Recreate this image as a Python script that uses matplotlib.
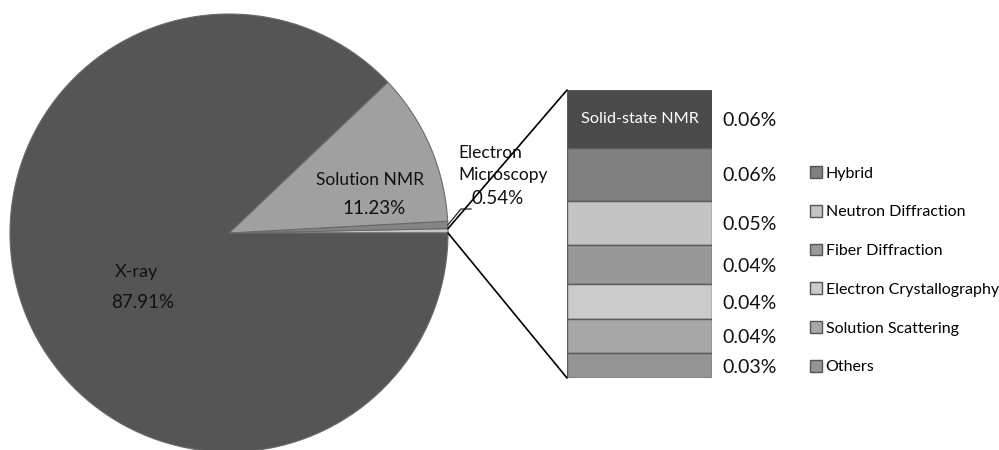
import numpy as np
import matplotlib
matplotlib.use("Agg")
import matplotlib.pyplot as plt
from matplotlib.patches import ConnectionPatch, Patch

plt.rcParams['font.family'] = ['Lato', 'DejaVu Sans']

# dados do grafico de pizza (%)
pie_labels = ["Other", "Electron Microscopy", "Solution NMR", "X-ray"]
pie_values_main = [0.54, 11.23, 87.91]

# detalhamento da fatia "Other" (%) - de cima para baixo
bar_labels = ["Solid-state NMR", "Hybrid", "Neutron Diffraction", "Fiber Diffraction",
              "Electron Crystallography", "Solution Scattering", "Others"]
bar_values = [0.064, 0.059, 0.049, 0.044, 0.038, 0.038, 0.028]
bar_text = ["0.06%", "0.06%", "0.05%", "0.04%", "0.04%", "0.04%", "0.03%"]
bar_colors = ["#4a4a4a", "#808080", "#c4c4c4", "#999999", "#cbcbcb", "#a8a8a8", "#949494"]

pie_values = [sum(bar_values)] + pie_values_main
pie_colors = ["#c6c6c6", "#858585", "#a0a0a0", "#555555"]

fig = plt.figure(figsize=(9.99, 4.5), dpi=100)
ax = fig.add_axes([0, 0, 1, 1])

cx, cy, r = 229, 217, 219
wedges, _ = ax.pie(pie_values, colors=pie_colors, startangle=0, counterclock=True,
                   center=(cx, cy), radius=r, frame=True,
                   wedgeprops=dict(edgecolor="#6a6a6a", linewidth=0.8))
ax.set_xlim(0, 999)
ax.set_ylim(0, 450)
ax.set_aspect("equal")
ax.axis("off")

# rotulos da pizza
ax.text(136, 450 - 272, "X-ray", ha="center", va="center", fontsize=13, color="#111111")
ax.text(143, 450 - 302, "87.91%", ha="center", va="center", fontsize=13.5, color="#111111")
ax.text(370, 450 - 180, "Solution NMR", ha="center", va="center", fontsize=12.5, color="#111111")
ax.text(374, 450 - 209, "11.23%", ha="center", va="center", fontsize=13.5, color="#111111")
ax.text(458, 450 - 164, "Electron\nMicroscopy", ha="left", va="center", fontsize=12.5,
        linespacing=1.45, color="#111111")
ax.text(471, 450 - 199, "0.54%", ha="left", va="center", fontsize=13.5, color="#111111")
ang = np.deg2rad(pie_values[0] + pie_values[1] / 2) * 3.6
ax.plot([cx + r * np.cos(ang), 461, 471], [cy + r * np.sin(ang), 450 - 209, 450 - 209],
        color="#222222", lw=0.9)

# barra empilhada
bax = fig.add_axes([567 / 999, 72 / 450, 145 / 999, 288 / 450])
total = sum(bar_values)
bottom = total
for val, col, txt in zip(bar_values, bar_colors, bar_text):
    bottom -= val
    bax.bar(0.5, val, width=1, bottom=bottom, color=col, edgecolor="#5a5a5a", linewidth=1)
    bax.text(1.07, bottom + val / 2 - 0.002, txt, ha="left", va="center", fontsize=14,
             color="#111111")
bax.text(0.5, total - bar_values[0] / 2, bar_labels[0], ha="center", va="center",
         fontsize=11.7, color="white")
bax.set_xlim(0, 1)
bax.set_ylim(0, total)
bax.axis("off")

# linhas de ligacao
theta2 = np.deg2rad(pie_values[0] * 3.6)
con1 = ConnectionPatch(xyA=(0, total), coordsA=bax.transData,
                       xyB=(cx + r * np.cos(theta2), cy + r * np.sin(theta2)), coordsB=ax.transData,
                       color="black", linewidth=1.2)
con2 = ConnectionPatch(xyA=(0, 0), coordsA=bax.transData,
                       xyB=(cx + r, cy), coordsB=ax.transData,
                       color="black", linewidth=1.2)
fig.add_artist(con1)
fig.add_artist(con2)

# legenda
handles = [Patch(facecolor=c, edgecolor="#555555") for c in bar_colors[1:]]
fig.legend(handles, bar_labels[1:], loc="upper left", bbox_to_anchor=(796 / 999, 1 - 152 / 450),
           frameon=False, fontsize=11.5, handlelength=0.75, handleheight=0.75,
           handletextpad=0.2, labelspacing=1.52)

fig.savefig("out.png", dpi=100)
